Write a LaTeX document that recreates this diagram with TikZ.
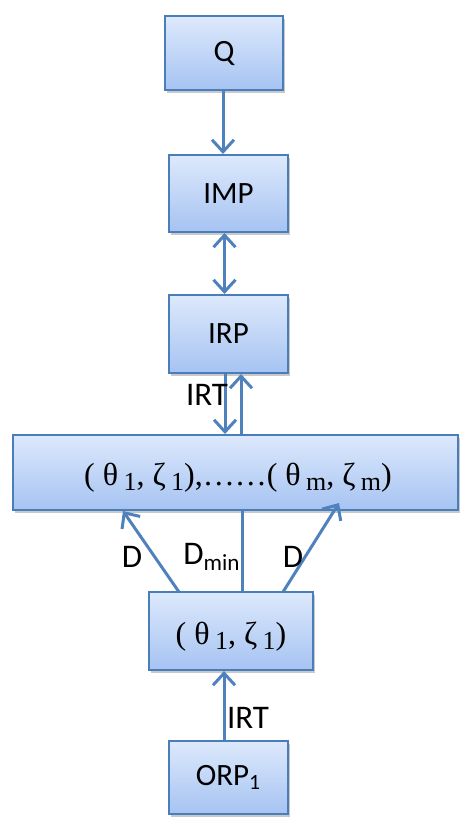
\documentclass[tikz,border=0pt]{standalone}
\usepackage{fontspec}
\setmainfont{Carlito}
\newfontfamily\greekfont{Liberation Serif}
\usetikzlibrary{arrows.meta,shadows,calc}

\definecolor{boxline}{HTML}{4A7EBB}
\definecolor{boxtop}{HTML}{DDE9FC}
\definecolor{boxbot}{HTML}{A6C3F2}
\definecolor{arrowc}{HTML}{4F81BD}

\tikzset{
  box/.style={draw=boxline, line width=1pt, top color=boxtop, bottom color=boxbot,
    drop shadow={shadow xshift=1.2pt, shadow yshift=-1.5pt, opacity=0.3, fill=black!70},
    inner sep=0pt, font=\fontsize{15.5}{18}\selectfont},
  link/.style={draw=arrowc, line width=1.5pt,
    -{Straight Barb[length=6pt,width=11pt,line width=1.5pt]}},
  plain/.style={draw=arrowc, line width=1.5pt},
  lbl/.style={inner sep=0pt, font=\fontsize{16.5}{19}\selectfont},
  pair/.style={font=\greekfont\fontsize{16}{19}\selectfont}
}
\newcommand{\low}[1]{\raisebox{-0.35ex}{\fontsize{13}{15}\selectfont #1}}

\begin{document}
\begin{tikzpicture}[x=0.5pt, y=-0.5pt]
    \useasboundingbox (0,0) rectangle (460,817);

    % Top chain
    \node[box, minimum width=59pt, minimum height=37pt] (q) at (224,53) {Q};
    \node[box, minimum width=59.5pt, minimum height=38.5pt] (imp) at (228.5,193.5) {IMP};
    \node[box, minimum width=59.5pt, minimum height=39pt] (irp) at (228.5,334) {IRP};

    % Set of pairs
    \node[box, minimum width=222.5pt, minimum height=37.5pt] (set) at (235.5,472.5) {};
    \node[pair] (settext) at (238,478) {(~θ\,\low{1}, ζ\,\low{1}),……(~θ\,\low{m}, ζ\,\low{m})};

    % Lower chain
    \node[box, minimum width=82pt, minimum height=39pt] (one) at (231,631) {};
    \node[pair] (onetext) at (231,637) {(~θ\,\low{1}, ζ\,\low{1})};
    \node[box, minimum width=59.5pt, minimum height=36.5pt] (orp) at (228.5,777.5) {ORP\textsubscript{1}};

    % Attach points
    \coordinate (q1) at ($(q.south)+(-1,0)$);
    \coordinate (imp1) at ($(imp.north)+(-5.5,0)$);
    \coordinate (imp2) at ($(imp.south)+(-4,0)$);
    \coordinate (irp1) at ($(irp.north)+(-4,0)$);
    \coordinate (irpa) at ($(irp.south)+(-3.5,0)$);
    \coordinate (irpb) at ($(irp.south)+(12.5,0)$);
    \coordinate (seta) at ($(set.north)+(-10.5,0)$);
    \coordinate (setb) at ($(set.north)+(5.5,0)$);
    \coordinate (setl) at (123,511);
    \coordinate (setm) at (242,510);
    \coordinate (setr) at (339,503);
    \coordinate (onel) at (179,592);
    \coordinate (onem) at (242,592);
    \coordinate (oner) at (283,592);
    \coordinate (onebot) at ($(one.south)+(-7,0)$);
    \coordinate (orptop) at ($(orp.north)+(-4.5,0)$);

    % Connectors
    \draw[link] (q1) -- (q1 |- imp1);
    \draw[link, {Straight Barb[length=6pt,width=11pt,line width=1.5pt]}-{Straight Barb[length=6pt,width=11pt,line width=1.5pt]}] (imp2) -- (irp1);
    \draw[link] (irpa) -- (seta);
    \draw[link] (setb) -- (irpb);
    \draw[link] (onel) -- (setl);
    \draw[plain] (onem) -- (setm);
    \draw[link] (oner) -- (setr);
    \draw[link] (orptop) -- (onebot);

    % Labels
    \node[lbl] (irtup) at (207,395) {IRT};
    \node[lbl] (dl) at (132,557) {D};
    \node[lbl] (dmin) at (212,557) {D\textsubscript{min}};
    \node[lbl] (dr) at (293,557) {D};
    \node[lbl] (irtlow) at (248,718) {IRT};
\end{tikzpicture}
\end{document}
